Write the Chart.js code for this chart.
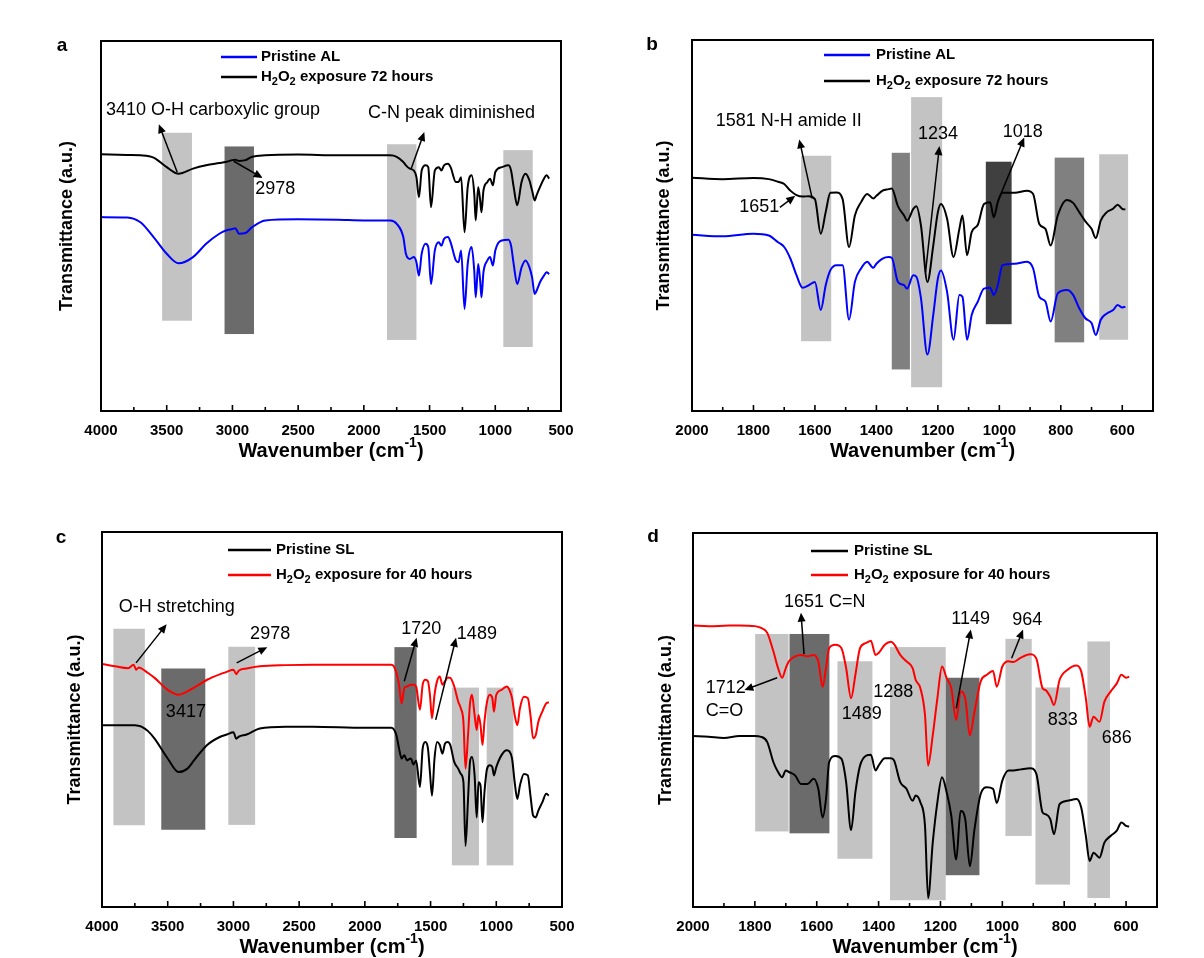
<!DOCTYPE html>
<html>
<head>
<meta charset="utf-8">
<script src="https://cdn.jsdelivr.net/npm/chart.js@4.4.1/dist/chart.umd.min.js"></script>
<style>
body { margin: 0; background: #fff; width: 1204px; height: 958px; overflow: hidden; position: relative; }
.panel { position: absolute; width: 602px; height: 479px; }
</style>
</head>
<body>
<div class="panel" style="left:0;top:0"><canvas id="chartA" width="602" height="479"></canvas></div>
<div class="panel" style="left:602px;top:0"><canvas id="chartB" width="602" height="479"></canvas></div>
<div class="panel" style="left:0;top:479px"><canvas id="chartC" width="602" height="479"></canvas></div>
<div class="panel" style="left:602px;top:479px"><canvas id="chartD" width="602" height="479"></canvas></div>
<script>
// ---- panel a : AL, 4000-500 cm-1 ----
var aWave = [4000, 3800, 3700, 3600, 3500, 3410, 3300, 3200, 3100, 3050, 3000, 2978, 2950, 2900, 2850, 2750, 2500, 2200, 2000, 1800,
    1750, 1700, 1680, 1650, 1620, 1600, 1581, 1560, 1530, 1510, 1489, 1460, 1430, 1410, 1390, 1360, 1340, 1300, 1280, 1260,
    1234, 1210, 1180, 1160, 1149, 1130, 1115, 1105, 1090, 1060, 1040, 1018, 1000, 950, 900, 880, 860, 833, 800, 770,
    740, 720, 700, 686, 660, 630, 610, 590];
var aPristine = [52.4, 52.3, 51.0, 47.0, 42.5, 39.9, 41.6, 45.2, 47.9, 48.8, 49.2, 49.4, 47.9, 48.1, 49.7, 51.5, 51.8, 51.7, 51.5, 51.5,
    50.6, 47.0, 42.5, 41.1, 41.6, 40.2, 36.6, 42.5, 45.2, 44.3, 34.3, 43.4, 45.6, 44.7, 46.5, 47.0, 45.6, 40.7, 40.2, 43.4,
    27.6, 39.7, 44.3, 37.9, 30.7, 39.7, 35.2, 30.7, 37.5, 40.7, 41.6, 39.3, 43.4, 46.1, 46.3, 44.7, 39.7, 34.3, 38.8, 40.7,
    38.8, 36.1, 31.6, 32.5, 34.8, 36.6, 37.5, 37.0];
var aExposed = [69.4, 69.2, 69.1, 68.5, 65.9, 64.1, 65.5, 66.4, 67.0, 67.3, 67.8, 67.9, 67.6, 67.8, 68.7, 69.1, 69.3, 69.1, 69.1, 69.1,
    68.7, 67.3, 66.4, 65.5, 65.0, 63.2, 57.8, 65.0, 66.4, 65.9, 55.1, 65.0, 65.9, 65.0, 66.4, 66.8, 65.9, 61.9, 61.9, 63.2,
    48.3, 60.5, 63.7, 58.7, 51.5, 60.5, 56.9, 53.7, 59.6, 61.9, 62.8, 61.0, 64.6, 65.9, 66.4, 65.0, 60.5, 55.6, 61.9, 64.1,
    62.3, 59.6, 56.9, 58.3, 60.5, 62.8, 63.7, 62.8];
var aTicks = [4000, 3500, 3000, 2500, 2000, 1500, 1000, 500];
// bands: [from, to, top, bottom]
var aBands = [[3535, 3308, 75.2, 24.4], [3060, 2836, 71.5, 20.8], [1824, 1600, 72.1, 19.2], [939, 715, 70.5, 17.3]];
var aNotes = [['3410 O-H carboxylic group', 3962, 81.3], ['2978', 2827, 60.1], ['C-N peak diminished', 1969, 80.4]];
var aArrows = [[3420, 64.5, 3560, 77.5], [2990, 67.5, 2770, 63.0], [1640, 65.5, 1540, 75.4]];

// ---- panel b : AL, 2000-500 cm-1 ----
var bWave = [2000, 1900, 1800, 1750, 1720, 1700, 1680, 1660, 1640, 1620, 1600, 1581, 1565, 1550, 1530, 1510, 1489, 1470, 1450, 1430,
    1410, 1400, 1380, 1360, 1350, 1330, 1310, 1300, 1280, 1270, 1255, 1234, 1215, 1200, 1190, 1170, 1149, 1130, 1120, 1105,
    1090, 1070, 1050, 1030, 1018, 1005, 990, 950, 910, 890, 870, 850, 833, 810, 780, 760, 740, 720, 700, 686,
    670, 650, 630, 615, 600, 590];
var bPristine = [47.5, 47.1, 47.8, 47.3, 45.5, 44.2, 41.1, 36.6, 33.2, 33.9, 34.8, 27.2, 33.9, 37.9, 39.3, 39.3, 24.6, 34.8, 38.4, 40.2,
    38.6, 39.7, 41.1, 41.5, 41.3, 34.8, 33.9, 33.0, 36.6, 36.2, 30.4, 15.2, 25.9, 35.7, 37.9, 32.1, 19.2, 31.3, 30.8, 19.2,
    25.9, 29.5, 33.0, 33.2, 31.3, 33.9, 39.3, 39.7, 40.2, 38.4, 30.8, 29.5, 24.1, 31.7, 32.6, 31.3, 27.7, 25.0, 23.7, 20.5,
    24.6, 26.3, 27.2, 28.6, 27.9, 28.1];
var bExposed = [62.9, 62.5, 62.8, 62.5, 61.8, 61.2, 59.4, 58.2, 57.8, 57.9, 57.1, 47.8, 53.6, 58.8, 58.9, 57.1, 44.2, 52.7, 56.3, 58.5,
    57.3, 58.0, 59.4, 59.8, 60.0, 55.2, 52.7, 51.3, 54.5, 55.2, 50.0, 34.8, 44.6, 53.6, 55.8, 51.8, 41.5, 49.1, 52.7, 42.0,
    48.2, 50.2, 55.8, 56.3, 52.2, 56.3, 58.8, 58.8, 59.4, 58.5, 50.4, 49.1, 44.6, 52.7, 56.9, 56.1, 53.6, 51.1, 49.1, 46.6,
    51.3, 53.6, 54.5, 55.6, 54.5, 54.3];
var bTicks = [2000, 1800, 1600, 1400, 1200, 1000, 800, 600];
var bBands = [[1645, 1547, 68.8, 18.8], [1350, 1291, 69.6, 11.2], [1287, 1186, 84.6, 6.4], [1044, 960, 67.2, 23.4], [820, 724, 68.3, 18.5], [675, 581, 69.2, 19.2]];
var bNotes = [['1581 N-H amide II', 1923, 78.1], ['1651', 1846, 54.9], ['1234', 1265, 74.6], ['1018', 989, 75.2]];
var bArrows = [[1609, 57.3, 1651, 73.2], [1714, 54.9, 1664, 58.0], [1240, 37.5, 1195, 71.4], [1004, 56.7, 919, 73.7]];

// ---- panel c : SL, 4000-500 cm-1 ----
var cWave = [4000, 3900, 3800, 3760, 3740, 3720, 3700, 3650, 3600, 3500, 3417, 3350, 3300, 3200, 3100, 3050, 3000, 2978, 2960, 2900,
    2800, 2600, 2400, 2000, 1800, 1780, 1760, 1740, 1720, 1700, 1680, 1650, 1630, 1610, 1581, 1560, 1540, 1520, 1505, 1489,
    1470, 1450, 1430, 1410, 1390, 1370, 1350, 1320, 1290, 1270, 1250, 1234, 1215, 1200, 1185, 1165, 1149, 1135, 1120, 1105,
    1090, 1070, 1050, 1030, 1018, 1000, 960, 920, 900, 880, 860, 840, 820, 790, 760, 740, 720, 700, 680, 650,
    620, 600];
var cPristine = [48.5, 48.5, 48.5, 48.5, 48.4, 48.3, 48.1, 46.9, 44.9, 39.6, 36.0, 36.9, 39.1, 43.2, 45.4, 46.0, 46.6, 44.9, 45.4, 46.0,
    47.6, 48.1, 48.1, 47.8, 47.8, 47.4, 45.8, 42.3, 39.6, 40.5, 39.1, 39.6, 38.0, 39.1, 32.0, 42.3, 44.0, 42.3, 36.0, 29.7,
    39.6, 44.0, 43.2, 40.9, 43.6, 44.0, 43.2, 38.7, 36.9, 35.5, 33.3, 16.3, 28.8, 38.7, 40.0, 35.1, 23.9, 33.3, 32.4, 22.6,
    30.6, 36.9, 37.8, 37.3, 35.1, 37.3, 40.5, 41.8, 41.5, 39.6, 33.3, 28.8, 32.4, 35.5, 35.1, 29.7, 24.4, 23.9, 25.7, 27.9,
    30.2, 29.7];
var cExposed = [64.8, 64.2, 63.7, 64.6, 63.3, 63.9, 63.6, 62.4, 61.1, 57.9, 56.6, 57.5, 58.5, 60.6, 62.1, 62.7, 63.3, 62.1, 63.0, 63.6,
    64.2, 64.5, 64.6, 64.6, 64.6, 64.2, 62.4, 59.3, 54.3, 58.4, 58.8, 59.3, 59.3, 58.8, 52.6, 59.3, 60.6, 60.2, 56.6, 50.3,
    56.6, 60.3, 61.5, 59.3, 60.2, 61.2, 61.1, 58.8, 54.8, 53.0, 49.4, 36.9, 45.8, 54.3, 56.6, 51.2, 47.2, 51.2, 48.5, 43.2,
    49.4, 54.8, 56.6, 55.7, 52.1, 56.6, 57.9, 58.8, 57.9, 55.7, 51.2, 48.5, 53.0, 56.1, 55.7, 51.2, 45.0, 45.8, 49.4, 52.1,
    54.3, 54.6];
var cTicks = [4000, 3500, 3000, 2500, 2000, 1500, 1000, 500];
var cBands = [[3913, 3674, 74.2, 21.8], [3549, 3214, 63.6, 20.6], [3039, 2835, 69.4, 21.9], [1775, 1606, 69.3, 18.4], [1338, 1132, 58.5, 11.1], [1073, 870, 58.5, 11.1]];
var cNotes = [['O-H stretching', 3872, 79.9], ['2978', 2873, 72.7], ['3417', 3514, 52.1], ['1720', 1723, 74.0], ['1489', 1300, 72.9]];
var cArrows = [[3741, 65.1, 3508, 75.4], [2975, 65.1, 2742, 69.3], [1700, 60.2, 1606, 71.8], [1461, 49.9, 1306, 71.8]];

// ---- panel d : SL, 2000-500 cm-1 ----
var dWave = [2000, 1950, 1900, 1850, 1800, 1780, 1760, 1740, 1725, 1712, 1700, 1690, 1670, 1651, 1630, 1610, 1595, 1581, 1570, 1560,
    1540, 1520, 1505, 1489, 1475, 1460, 1440, 1425, 1410, 1400, 1380, 1360, 1350, 1330, 1310, 1290, 1280, 1265, 1250, 1240,
    1225, 1210, 1195, 1180, 1165, 1149, 1135, 1120, 1105, 1090, 1070, 1050, 1030, 1018, 1000, 980, 964, 940, 910, 890,
    870, 860, 845, 833, 815, 790, 760, 745, 730, 718, 705, 686, 670, 650, 630, 615, 600, 590];
var dPristine = [45.7, 45.5, 45.2, 45.7, 45.7, 45.5, 44.1, 38.7, 36.1, 34.7, 36.5, 36.1, 35.2, 32.9, 32.9, 34.3, 31.6, 23.9, 28.9, 38.7,
    40.4, 39.6, 33.4, 20.6, 30.7, 37.8, 40.5, 40.7, 36.5, 37.8, 39.8, 39.8, 39.2, 33.4, 31.6, 28.4, 29.8, 28.0, 21.7, 2.4,
    17.2, 28.0, 34.7, 30.7, 24.4, 12.7, 25.7, 23.5, 10.9, 20.8, 30.2, 32.0, 31.6, 27.8, 33.8, 36.5, 36.5, 36.8, 37.1, 35.6,
    25.3, 24.8, 23.5, 19.5, 27.5, 28.4, 28.9, 26.6, 19.0, 12.3, 14.5, 13.2, 17.2, 19.0, 20.4, 22.6, 21.7, 21.5];
var dExposed = [75.3, 75.1, 75.2, 75.3, 75.1, 74.6, 73.3, 68.3, 63.9, 61.3, 63.9, 65.7, 67.0, 67.4, 67.0, 67.4, 65.7, 58.9, 63.9, 69.2,
    70.1, 69.2, 63.9, 55.8, 62.1, 69.2, 70.6, 71.2, 67.4, 67.9, 70.1, 70.9, 70.3, 67.4, 65.7, 63.9, 60.7, 58.5, 51.3, 37.8,
    45.9, 55.8, 64.3, 61.2, 58.5, 50.0, 57.6, 55.8, 45.9, 52.2, 60.3, 62.1, 63.1, 58.9, 64.3, 65.7, 65.5, 66.7, 67.6, 66.4,
    58.5, 58.0, 56.2, 54.0, 60.7, 63.4, 64.6, 63.0, 55.8, 48.2, 50.9, 49.5, 54.9, 57.6, 59.8, 62.1, 61.3, 61.6];
var dTicks = [2000, 1800, 1600, 1400, 1200, 1000, 800, 600];
var dBands = [[1799, 1691, 73.0, 20.2], [1688, 1559, 73.0, 19.7], [1533, 1420, 65.7, 12.9], [1363, 1183, 69.5, 1.8],
    [1183, 1074, 61.3, 8.5], [990, 905, 71.7, 19.0], [893, 781, 58.7, 6.0], [725, 652, 71.0, 2.4]];
var dNotes = [['1651 C=N', 1706, 81.6], ['1712', 1959, 58.5], ['C=O', 1959, 52.4], ['1489', 1519, 51.6], ['1288', 1417, 57.6],
    ['1149', 1165, 77.1], ['964', 968, 76.6], ['833', 853, 50.0], ['686', 679, 45.2]];
var dArrows = [[1641, 67.6, 1651, 78.7], [1728, 61.3, 1834, 58.0], [1149, 53.1, 1102, 74.2], [970, 66.5, 933, 74.2]];

var FONT = '"Liberation Sans", Arial, sans-serif';
var LIGHT = '#c3c3c3', MID = '#808080', DARK = '#6b6b6b', DARKEST = '#404040';

// text with sub/superscripts: digits after a letter become subscripts, ^{..} superscript
function richParts(text) {
    var parts = [], re = /\^\{([^}]*)\}|([A-Za-z])(\d)/g, last = 0, m;
    while ((m = re.exec(text))) {
        if (m[1] !== undefined) {
            parts.push({ t: text.slice(last, m.index), s: 0 });
            parts.push({ t: m[1], s: 1 });
        } else {
            parts.push({ t: text.slice(last, m.index) + m[2], s: 0 });
            parts.push({ t: m[3], s: -1 });
        }
        last = re.lastIndex;
    }
    parts.push({ t: text.slice(last), s: 0 });
    return parts;
}

function drawRich(c, text, x, y, size, align) {
    var parts = richParts(text), w = 0;
    parts.forEach(function (p) {
        c.font = 'bold ' + (p.s ? Math.round(size * 0.7) : size) + 'px ' + FONT;
        p.w = c.measureText(p.t).width;
        w += p.w;
    });
    var cx = align === 'center' ? x - w / 2 : x;
    c.textAlign = 'left';
    c.textBaseline = 'middle';
    parts.forEach(function (p) {
        c.font = 'bold ' + (p.s ? Math.round(size * 0.7) : size) + 'px ' + FONT;
        c.fillText(p.t, cx, y + (p.s < 0 ? size * 0.3 : p.s > 0 ? -size * 0.4 : 0));
        cx += p.w;
    });
}

function decor(p) {
    return {
        id: 'decor',
        beforeDatasetsDraw: function (chart) {
            var c = chart.ctx, xs = chart.scales.x, ys = chart.scales.y;
            c.save();
            p.bands.forEach(function (b, i) {
                var x1 = xs.getPixelForValue(b[0]), x2 = xs.getPixelForValue(b[1]);
                var y1 = ys.getPixelForValue(b[2]), y2 = ys.getPixelForValue(b[3]);
                c.fillStyle = p.shades[i];
                c.fillRect(Math.min(x1, x2), y1, Math.abs(x2 - x1), y2 - y1);
            });
            c.restore();
        },
        afterDraw: function (chart) {
            var c = chart.ctx, xs = chart.scales.x, ys = chart.scales.y, a = chart.chartArea;
            c.save();
            c.fillStyle = '#000';
            c.strokeStyle = '#000';
            // frame
            c.lineWidth = 2;
            c.strokeRect(a.left, a.top, a.right - a.left, a.bottom - a.top);
            // inward ticks, major and minor
            c.lineWidth = 1.6;
            for (var v = p.min; v <= p.max; v += p.step / 2) {
                var tx = xs.getPixelForValue(v);
                var len = p.ticks.indexOf(v) >= 0 ? 6 : 4;
                c.beginPath();
                c.moveTo(tx, a.bottom);
                c.lineTo(tx, a.bottom - len);
                c.stroke();
            }
            // notes
            c.font = '18px ' + FONT;
            c.textAlign = 'left';
            c.textBaseline = 'middle';
            p.notes.forEach(function (n) {
                c.fillText(n[0], xs.getPixelForValue(n[1]), ys.getPixelForValue(n[2]));
            });
            // arrows
            c.lineWidth = 1.5;
            p.arrows.forEach(function (r) {
                var x1 = xs.getPixelForValue(r[0]), y1 = ys.getPixelForValue(r[1]);
                var x2 = xs.getPixelForValue(r[2]), y2 = ys.getPixelForValue(r[3]);
                var ang = Math.atan2(y2 - y1, x2 - x1), hl = 9, hw = 4;
                c.beginPath();
                c.moveTo(x1, y1);
                c.lineTo(x2 - Math.cos(ang) * hl * 0.8, y2 - Math.sin(ang) * hl * 0.8);
                c.stroke();
                c.beginPath();
                c.moveTo(x2, y2);
                c.lineTo(x2 - Math.cos(ang) * hl + Math.sin(ang) * hw, y2 - Math.sin(ang) * hl - Math.cos(ang) * hw);
                c.lineTo(x2 - Math.cos(ang) * hl - Math.sin(ang) * hw, y2 - Math.sin(ang) * hl + Math.cos(ang) * hw);
                c.closePath();
                c.fill();
            });
            // legend
            chart.data.datasets.forEach(function (ds, i) {
                var ly = a.top + p.legend.rows[i];
                c.strokeStyle = ds.borderColor;
                c.lineWidth = 2.5;
                c.beginPath();
                c.moveTo(a.left + p.legend.x0, ly);
                c.lineTo(a.left + p.legend.x1, ly);
                c.stroke();
                c.fillStyle = '#000';
                drawRich(c, ds.label, a.left + p.legend.tx, ly, 15, 'left');
            });
            // panel letter
            c.font = 'bold 19px ' + FONT;
            c.textAlign = 'center';
            c.textBaseline = 'middle';
            c.fillText(p.letter, p.letterX, p.letterY);
            // axis titles
            drawRich(c, 'Wavenumber (cm^{-1})', (a.left + a.right) / 2, a.bottom + 40, 20, 'center');
            c.translate(p.yTitleX, (a.top + a.bottom) / 2);
            c.rotate(-Math.PI / 2);
            c.font = 'bold 18px ' + FONT;
            c.textAlign = 'center';
            c.textBaseline = 'middle';
            c.fillText('Transmittance (a.u.)', 0, 0);
            c.restore();
        }
    };
}

function makePanel(id, p) {
    return new Chart(document.getElementById(id), {
        type: 'line',
        data: {
            datasets: p.series.map(function (s) {
                return {
                    label: s.label,
                    data: p.wave.map(function (w, i) { return { x: w, y: s.values[i] }; }),
                    borderColor: s.color,
                    borderWidth: 2,
                    pointRadius: 0,
                    cubicInterpolationMode: 'monotone',
                    fill: false
                };
            })
        },
        options: {
            responsive: false,
            animation: false,
            devicePixelRatio: 1,
            layout: { padding: p.pad },
            plugins: { legend: { display: false }, tooltip: { enabled: false } },
            scales: {
                x: {
                    type: 'linear', reverse: true, min: p.min, max: p.max,
                    grid: { display: false, drawTicks: false },
                    border: { display: false },
                    ticks: {
                        stepSize: p.step, includeBounds: false, padding: 11, color: '#000',
                        autoSkip: false, maxRotation: 0,
                        font: { family: FONT, size: 15, weight: 'bold' },
                        callback: function (v) { return p.ticks.indexOf(v) >= 0 ? String(v) : ''; }
                    }
                },
                y: { display: false, min: 0, max: 100 }
            }
        },
        plugins: [decor(p)]
    });
}

makePanel('chartA', {
    wave: aWave, min: 500, max: 4000, step: 500, ticks: aTicks,
    series: [{ label: 'Pristine AL', values: aPristine, color: '#0000ff' }, { label: 'H2O2 exposure 72 hours', values: aExposed, color: '#000000' }],
    bands: aBands, shades: [LIGHT, DARK, LIGHT, LIGHT], notes: aNotes, arrows: aArrows,
    pad: { left: 101, right: 41, top: 41, bottom: 28 },
    legend: { x0: 120, x1: 156, tx: 160, rows: [16, 36] },
    letter: 'a', letterX: 62, letterY: 46, yTitleX: 67
});
makePanel('chartB', {
    wave: bWave, min: 500, max: 2000, step: 200, ticks: bTicks,
    series: [{ label: 'Pristine AL', values: bPristine, color: '#0000ff' }, { label: 'H2O2 exposure 72 hours', values: bExposed, color: '#000000' }],
    bands: bBands, shades: [LIGHT, MID, LIGHT, DARKEST, MID, LIGHT], notes: bNotes, arrows: bArrows,
    pad: { left: 90, right: 51, top: 40, bottom: 28 },
    legend: { x0: 132, x1: 178, tx: 184, rows: [15, 41] },
    letter: 'b', letterX: 50, letterY: 45, yTitleX: 62
});
makePanel('chartC', {
    wave: cWave, min: 500, max: 4000, step: 500, ticks: cTicks,
    series: [{ label: 'Pristine SL', values: cPristine, color: '#000000' }, { label: 'H2O2 exposure for 40 hours', values: cExposed, color: '#ff0000' }],
    bands: cBands, shades: [LIGHT, DARK, LIGHT, DARK, LIGHT, LIGHT], notes: cNotes, arrows: cArrows,
    pad: { left: 102, right: 40, top: 53, bottom: 11 },
    legend: { x0: 126, x1: 169, tx: 174, rows: [18, 43] },
    letter: 'c', letterX: 61, letterY: 59, yTitleX: 75
});
makePanel('chartD', {
    wave: dWave, min: 500, max: 2000, step: 200, ticks: dTicks,
    series: [{ label: 'Pristine SL', values: dPristine, color: '#000000' }, { label: 'H2O2 exposure for 40 hours', values: dExposed, color: '#ff0000' }],
    bands: dBands, shades: [LIGHT, DARK, LIGHT, LIGHT, DARK, LIGHT, LIGHT, LIGHT], notes: dNotes, arrows: dArrows,
    pad: { left: 91, right: 47, top: 54, bottom: 11 },
    legend: { x0: 118, x1: 155, tx: 161, rows: [18, 42] },
    letter: 'd', letterX: 51, letterY: 58, yTitleX: 64
});
</script>
</body>
</html>
